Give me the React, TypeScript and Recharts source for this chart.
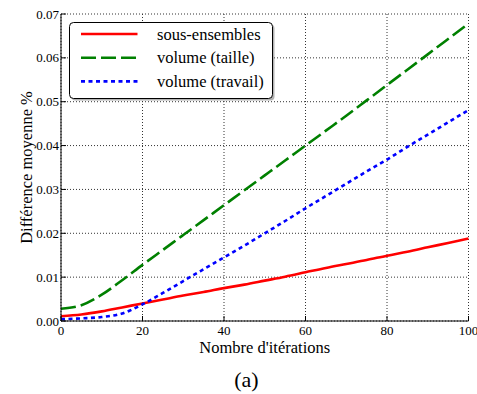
import React from 'react';
import { LineChart, Line, XAxis, YAxis, CartesianGrid } from 'recharts';

const iterations = [0, 5, 10, 15, 20, 25, 30, 35, 40, 45, 50, 55, 60, 65, 70, 75, 80, 85, 90, 95, 100];
const sousEnsembles = [0.0011, 0.0015, 0.0022, 0.0031, 0.004, 0.0049, 0.0058, 0.0066, 0.0075, 0.0083, 0.0092, 0.0101, 0.0111, 0.0121, 0.013, 0.0139, 0.0149, 0.0158, 0.0168, 0.0178, 0.0188];
const volumeTaille = [0.0028, 0.0036, 0.006, 0.0093, 0.0128, 0.0162, 0.0196, 0.023, 0.0264, 0.0298, 0.0332, 0.0366, 0.04, 0.0434, 0.0468, 0.0503, 0.0538, 0.0573, 0.0608, 0.0643, 0.0678];
const volumeTravail = [0.0004, 0.0006, 0.0009, 0.0017, 0.0038, 0.0064, 0.0091, 0.0118, 0.0145, 0.0172, 0.02, 0.0228, 0.0257, 0.0285, 0.0313, 0.0341, 0.0368, 0.0397, 0.0425, 0.0453, 0.0481];

const xTicks = [0, 20, 40, 60, 80, 100];
const yTicks = [0, 0.01, 0.02, 0.03, 0.04, 0.05, 0.06, 0.07];
const seriesNames = ['sous-ensembles', 'volume (taille)', 'volume (travail)'];
const xLabel = "Nombre d'itérations";
const yLabel = 'Différence moyenne %';
const caption = '(a)';

const data = iterations.map((x, i) => ({
  x,
  s: sousEnsembles[i],
  t: volumeTaille[i],
  w: volumeTravail[i],
}));

const FONT = "'Liberation Serif', serif";

const seriesStyle = [
  { key: 's', color: '#ff0000', dash: undefined as string | undefined },
  { key: 't', color: '#008000', dash: '15 5' },
  { key: 'w', color: '#0000ff', dash: '4 3.5' },
];

const LegendBox = () => (
  <svg width={210} height={84} style={{ position: 'absolute', left: 69, top: 22, overflow: 'visible' }}>
    <rect x={2.5} y={2.5} width={203} height={76} rx={4} ry={4} fill="#808080" opacity={0.6} />
    <rect x={0.5} y={0.5} width={203} height={76} rx={4} ry={4} fill="#fff" stroke="#000" strokeWidth={1} />
    {seriesNames.map((name, i) => {
      const cy = 12 + i * 23.7;
      const st = seriesStyle[i];
      return (
        <g key={name}>
          <line x1={12} x2={68.5} y1={cy} y2={cy} stroke={st.color} strokeWidth={2.6} strokeDasharray={st.dash} />
          <text x={88} y={cy + 5.5} style={{ fontFamily: FONT, fontSize: '16.5px' }} fill="#000">{name}</text>
        </g>
      );
    })}
  </svg>
);

export default function App() {
  return (
    <div style={{ position: 'absolute', left: 0, top: 0, width: 477, height: 394, background: '#fff' }}>
      <LineChart width={477} height={394} data={data} margin={{ top: 14, right: 8.5, left: 0, bottom: 33 }}>
        <CartesianGrid stroke="#333" strokeDasharray="1 2" strokeWidth={1} />
        <XAxis
          dataKey="x"
          type="number"
          domain={[0, 100]}
          ticks={xTicks}
          height={40}
          tickSize={-5}
          tickMargin={10}
          axisLine={{ stroke: '#000' }}
          tickLine={{ stroke: '#000' }}
          tick={{ fill: '#000', fontFamily: FONT, fontSize: 13 }}
          interval={0}
          label={{ value: xLabel, position: 'insideBottom', offset: 8, fill: '#000', fontFamily: FONT, fontSize: 16.5 }}
        />
        <XAxis
          xAxisId="top"
          orientation="top"
          dataKey="x"
          type="number"
          domain={[0, 100]}
          ticks={xTicks}
          height={0}
          tickSize={-5}
          axisLine={{ stroke: '#000' }}
          tickLine={{ stroke: '#000' }}
          tick={false}
        />
        <YAxis
          type="number"
          domain={[0, 0.07]}
          ticks={yTicks}
          width={61}
          tickSize={-5}
          tickMargin={7}
          interval={0}
          tickFormatter={(v: number) => v.toFixed(2)}
          axisLine={{ stroke: '#000' }}
          tickLine={{ stroke: '#000' }}
          tick={{ fill: '#000', fontFamily: FONT, fontSize: 13 }}
          label={{ value: yLabel, angle: -90, position: 'insideLeft', offset: 26, fill: '#000', fontFamily: FONT, fontSize: 16.5, style: { textAnchor: 'middle' } }}
        />
        <YAxis
          yAxisId="right"
          orientation="right"
          type="number"
          domain={[0, 0.07]}
          ticks={yTicks}
          width={0}
          tickSize={-5}
          axisLine={{ stroke: '#000' }}
          tickLine={{ stroke: '#000' }}
          tick={false}
        />
        {seriesStyle.map((st, i) => (
          <Line
            key={st.key}
            dataKey={st.key}
            name={seriesNames[i]}
            type="monotone"
            stroke={st.color}
            strokeWidth={2.6}
            strokeDasharray={st.dash}
            dot={false}
            activeDot={false}
            isAnimationActive={false}
          />
        ))}
      </LineChart>
      <LegendBox />
      <div style={{ position: 'absolute', left: 0, width: 493, top: 367, textAlign: 'center', fontFamily: FONT, fontSize: 22, color: '#000', lineHeight: '26px' }}>
        {caption}
      </div>
    </div>
  );
}
